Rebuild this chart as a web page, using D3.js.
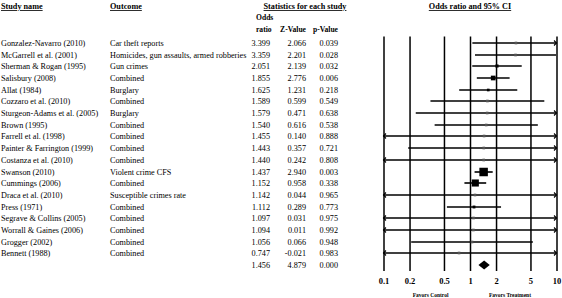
<!DOCTYPE html>
<html>
<head>
<meta charset="utf-8">
<script src="https://cdn.jsdelivr.net/npm/d3@7"></script>
<style>
  body { margin: 0; background: #fff; }
  svg text { font-family: "Liberation Serif", "Times New Roman", serif; fill: #000; }
</style>
</head>
<body>
<div id="chart"></div>
<script>
// Study rows
const studies = [
  'Gonzalez-Navarro (2010)', 'McGarrell et al. (2001)', 'Sherman & Rogan (1995)', 'Salisbury (2008)',
  'Allat (1984)', 'Cozzaro et al. (2010)', 'Sturgeon-Adams et al. (2005)', 'Brown (1995)',
  'Farrell et al. (1998)', 'Painter & Farrington (1999)', 'Costanza et al. (2010)', 'Swanson (2010)',
  'Cummings (2006)', 'Draca et al. (2010)', 'Press (1971)', 'Segrave & Collins (2005)',
  'Worrall & Gaines (2006)', 'Grogger (2002)', 'Bennett (1988)'
];
const outcomes = [
  'Car theft reports', 'Homicides, gun assaults, armed robberies', 'Gun crimes', 'Combined',
  'Burglary', 'Combined', 'Burglary', 'Combined', 'Combined', 'Combined', 'Combined',
  'Violent crime CFS', 'Combined', 'Susceptible crimes rate', 'Combined', 'Combined',
  'Combined', 'Combined', 'Combined'
];
const oddsRatios = [3.399, 3.359, 2.051, 1.855, 1.625, 1.589, 1.579, 1.540, 1.455, 1.443, 1.440,
  1.437, 1.152, 1.142, 1.112, 1.097, 1.094, 1.056, 0.747];
const zValues = ['2.066', '2.201', '2.139', '2.776', '1.231', '0.599', '0.471', '0.616', '0.140',
  '0.357', '0.242', '2.940', '0.958', '0.044', '0.289', '0.031', '0.011', '0.066', '-0.021'];
const pValues = ['0.039', '0.028', '0.032', '0.006', '0.218', '0.549', '0.638', '0.538', '0.888',
  '0.721', '0.808', '0.003', '0.338', '0.965', '0.773', '0.975', '0.992', '0.948', '0.983'];
// 95% CI limits (estimated from the bars; values outside 0.1-10 get arrows)
const lowerCI = [1.065, 1.142, 1.062, 1.199, 0.750, 0.349, 0.236, 0.390, 0.0076, 0.193, 0.0150,
  1.129, 0.862, 0.0001, 0.541, 0.0001, 0.0001, 0.209, 0.0001];
const upperCI = [10.85, 9.88, 3.962, 2.870, 3.520, 7.23, 10.57, 6.085, 278, 10.8, 138,
  1.830, 1.539, 12000, 2.285, 13000, 14000, 5.33, 12000];

const summaryOR = 1.456, summaryZ = '4.879', summaryP = '0.000';
const summaryLower = 1.252, summaryUpper = 1.693;

const axisTicks = [0.1, 0.2, 0.5, 1, 2, 5, 10];

const width = 562, height = 298;
const svg = d3.select('#chart').append('svg')
  .attr('width', width).attr('height', height);

const x = d3.scaleLog().domain([0.1, 10]).range([383.5, 556.5]);
const y = d3.scaleLinear().domain([0, 19]).range([43, 265]);
const plotTop = 36.5, plotBottom = 271;

// headers
const fs = 8.2, hs = 7.6;
function header(txt, xx, yy, anchor) {
  svg.append('text').attr('x', xx).attr('y', yy)
    .attr('font-size', fs).attr('font-weight', 'bold')
    .attr('text-decoration', 'underline')
    .attr('text-anchor', anchor || 'start').text(txt);
}
header('Study name', 1, 9);
header('Outcome', 110, 9);
header('Statistics for each study', 305, 9, 'middle');
header('Odds ratio and 95% CI', 470, 9, 'middle');

const colOR = 270, colZ = 306, colP = 338;
svg.append('text').attr('x', 256).attr('y', 20).attr('font-size', hs).attr('font-weight', 'bold')
  .text('Odds');
svg.append('text').attr('x', 256).attr('y', 32).attr('font-size', hs).attr('font-weight', 'bold')
  .text('ratio');
svg.append('text').attr('x', colZ).attr('y', 32).attr('font-size', hs).attr('font-weight', 'bold')
  .attr('text-anchor', 'end').text('Z-Value');
svg.append('text').attr('x', colP).attr('y', 32).attr('font-size', hs).attr('font-weight', 'bold')
  .attr('text-anchor', 'end').text('p-Value');

// table rows
const rows = svg.append('g').selectAll('g').data(studies).join('g')
  .attr('transform', (d, i) => `translate(0, ${Math.round(y(i)) + 3})`)
  .attr('font-size', fs);
rows.append('text').attr('x', 1).text(d => d);
rows.append('text').attr('x', 110).text((d, i) => outcomes[i]);
rows.append('text').attr('x', colOR).attr('text-anchor', 'end').text((d, i) => d3.format('.3f')(oddsRatios[i]));
rows.append('text').attr('x', colZ).attr('text-anchor', 'end').text((d, i) => zValues[i]);
rows.append('text').attr('x', colP).attr('text-anchor', 'end').text((d, i) => pValues[i]);

const sumRow = svg.append('g').attr('transform', `translate(0, ${Math.round(y(19)) + 3})`).attr('font-size', fs);
sumRow.append('text').attr('x', colOR).attr('text-anchor', 'end').text(d3.format('.3f')(summaryOR));
sumRow.append('text').attr('x', colZ).attr('text-anchor', 'end').text(summaryZ);
sumRow.append('text').attr('x', colP).attr('text-anchor', 'end').text(summaryP);

// axis with full-height gridlines
const axis = svg.append('g')
  .attr('transform', `translate(0, ${plotBottom})`)
  .call(d3.axisBottom(x).tickValues(axisTicks)
    .tickFormat(d => String(d))
    .tickSize(-(plotBottom - plotTop)).tickPadding(7));
axis.select('.domain').remove();
axis.selectAll('.tick line').attr('stroke', '#000').attr('stroke-width', 1.5);
axis.selectAll('.tick text')
  .attr('font-family', '"Liberation Serif", serif')
  .attr('font-size', 8.5).attr('font-weight', 'bold');

// confidence intervals
const clip = v => Math.max(0.1, Math.min(10, v));
const ci = svg.append('g');
studies.forEach((s, i) => {
  const yy = Math.round(y(i));
  ci.append('line')
    .attr('x1', x(clip(lowerCI[i]))).attr('x2', x(clip(upperCI[i])))
    .attr('y1', yy).attr('y2', yy)
    .attr('stroke', '#000').attr('stroke-width', 1.6);
  if (upperCI[i] > 10) {
    const xe = x(10);
    ci.append('path').attr('d', `M${xe - 2.5},${yy - 2.5}L${xe},${yy}L${xe - 2.5},${yy + 2.5}`)
      .attr('fill', 'none').attr('stroke', '#000').attr('stroke-width', 1.1);
  }
  if (lowerCI[i] < 0.1) {
    const xs = x(0.1);
    ci.append('path').attr('d', `M${xs + 2.5},${yy - 2.5}L${xs},${yy}L${xs + 2.5},${yy + 2.5}`)
      .attr('fill', 'none').attr('stroke', '#000').attr('stroke-width', 1.1);
  }
});

// point estimates sized by inverse-variance weight
const weights = studies.map((s, i) => {
  const se = (Math.log(upperCI[i]) - Math.log(lowerCI[i])) / 3.92;
  return 1 / (se * se);
});
const size = d3.scaleSqrt().domain([0, d3.max(weights)]).range([0, 8.5]);
ci.selectAll('rect').data(studies).join('rect')
  .each(function (d, i) {
    const s = Math.max(2.6, size(weights[i]));
    const yy = Math.round(y(i));
    d3.select(this)
      .attr('x', x(oddsRatios[i]) - s / 2).attr('y', yy - s / 2)
      .attr('width', s).attr('height', s);
  })
  .attr('fill', (d, i) => size(weights[i]) < 2.6 ? '#555' : '#000');

// summary diamond
const ys = Math.round(y(19));
svg.append('path')
  .attr('d', `M${x(summaryLower)},${ys}L${x(summaryOR)},${ys - 4.5}L${x(summaryUpper)},${ys}L${x(summaryOR)},${ys + 4.5}Z`)
  .attr('fill', '#000');

// favours labels
svg.append('text').attr('x', x(0.35)).attr('y', 297).attr('font-size', 5.5).attr('font-weight', 'bold')
  .attr('text-anchor', 'middle').text('Favors Control');
svg.append('text').attr('x', x(2.9)).attr('y', 297).attr('font-size', 5.5).attr('font-weight', 'bold')
  .attr('text-anchor', 'middle').text('Favors Treatment');
</script>
</body>
</html>
